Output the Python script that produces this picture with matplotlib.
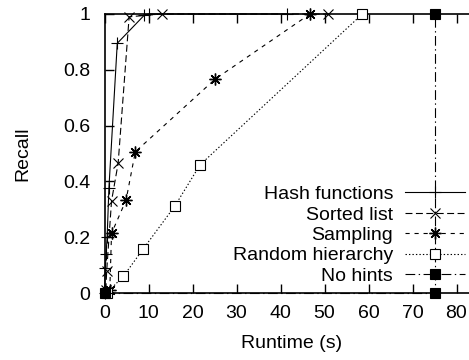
"""
Recall versus runtime for the hint strategies (gnuplot-like look).
"""

import matplotlib
matplotlib.use('Agg')
import matplotlib.pyplot as plt

plt.rcParams['font.family'] = ['Liberation Sans', 'DejaVu Sans']
plt.rcParams['font.size'] = 14
plt.rcParams['lines.scale_dashes'] = False

###############################################################################
# Values (runtime in s, recall in [0, 1])

hash_t = [0, 0.2, 0.35, 0.6, 1.0, 2.9, 9.0, 10.0, 41.4]
hash_r = [0, 0.09, 0.14, 0.2, 0.375, 0.895, 0.995, 1.0, 1.0]

sorted_t = [0.3, 0.5, 1.6, 3.1, 5.6, 13.0, 50.9]
sorted_r = [0.01, 0.08, 0.33, 0.465, 0.99, 1.0, 1.0]

sampling_t = [1.2, 1.6, 4.9, 7.0, 25.1, 46.7]
sampling_r = [0.01, 0.214, 0.333, 0.506, 0.766, 1.0]

random_t = [0.5, 4.3, 8.8, 16.0, 21.7, 58.6]
random_r = [0.0, 0.06, 0.158, 0.312, 0.459, 1.0]

nohints_t = [0, 75, 75]
nohints_r = [0, 0, 1]

xticks = [0, 10, 20, 30, 40, 50, 60, 70, 80]
yticks = [0, 0.2, 0.4, 0.6, 0.8, 1]
yticklabels = ['0', '0.2', '0.4', '0.6', '0.8', '1']

###############################################################################
# Axes run a little past the right edge of the figure, as in the reference

fig = plt.figure(figsize=(4.69, 3.6), dpi=100)
ax = fig.add_axes([104.5 / 469, 67 / 360, 374 / 469, 279 / 360])

common = dict(color='black', lw=0.8, clip_on=False, zorder=3)
ax.plot(hash_t, hash_r, ls='-', marker='+', ms=8, mew=0.8,
        label='Hash functions', **common)
ax.plot(sorted_t, sorted_r, ls=(0, (5, 2.5)), marker='x', ms=6.5, mew=0.8,
        label='Sorted list', **common)
ax.plot(sampling_t, sampling_r, ls=(0, (3, 3.5)), marker=(8, 2, 0), ms=8.5,
        mew=1.0, label='Sampling', **common)
ax.plot(random_t, random_r, ls=(0, (1, 1.5)), marker='s', ms=6.5, mew=0.8,
        mfc='white', label='Random hierarchy', **common)
ax.plot(nohints_t, nohints_r, ls=(0, (7, 2.5, 1, 2.5)), marker='s', ms=7.5,
        mew=0.8, mfc='black', label='No hints', **common)

ax.set_xlim(0, 85)
ax.set_ylim(0, 1)
ax.set_xticks(xticks)
ax.set_yticks(yticks)
ax.set_yticklabels(yticklabels)
ax.tick_params(direction='in', length=6.5, width=1, top=True, right=True)
ax.tick_params(axis='x', pad=9)
ax.tick_params(axis='y', pad=10)
for spine in ax.spines.values():
    spine.set_linewidth(1.2)

ax.set_xlabel('Runtime (s)')
ax.xaxis.set_label_coords(0.5, -0.15)
ax.set_ylabel('Recall')
ax.yaxis.set_label_coords(-0.196, 0.5)

ax.legend(loc='upper right', bbox_to_anchor=(465 / 469, 0.4847),
          bbox_transform=fig.transFigure, frameon=False, markerfirst=False,
          numpoints=1, handlelength=3.1, handletextpad=0.6, borderpad=0,
          borderaxespad=0, labelspacing=0.145)

fig.savefig('out.png', dpi=100)
